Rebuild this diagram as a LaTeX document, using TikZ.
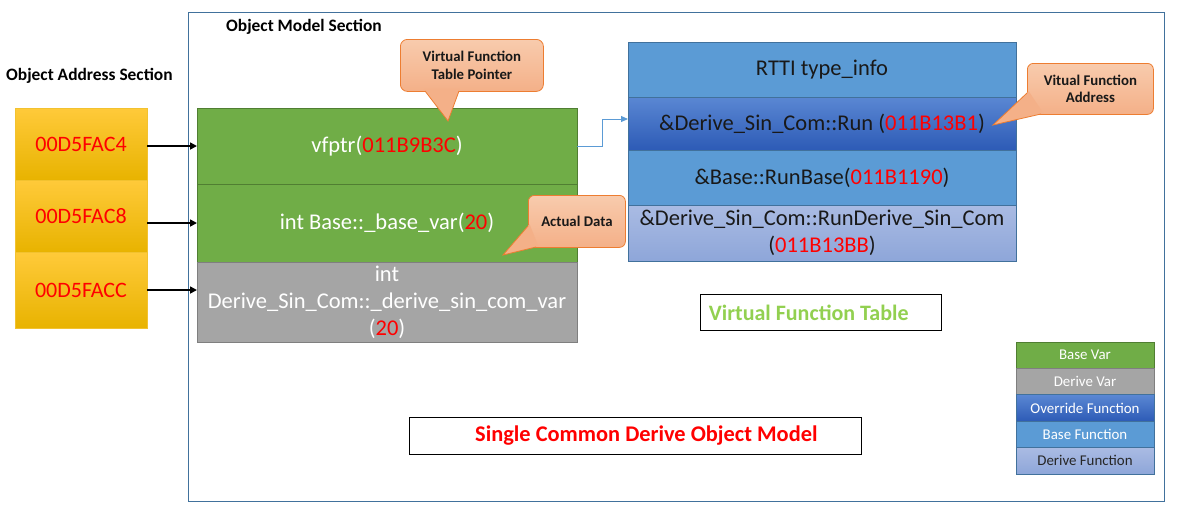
\documentclass[tikz,border=0pt]{standalone}
\usepackage{fontspec}
\setmainfont{Carlito}
\usetikzlibrary{positioning,arrows.meta}

\definecolor{goldtop}{HTML}{FFCA3A}
\definecolor{goldmid}{HTML}{FFC000}
\definecolor{goldbot}{HTML}{E8B300}
\definecolor{goldline}{HTML}{F2C230}
\definecolor{basegreen}{HTML}{70AD47}
\definecolor{greenline}{HTML}{507E32}
\definecolor{derivegray}{HTML}{A5A5A5}
\definecolor{grayline}{HTML}{7F7F7F}
\definecolor{funcblue}{HTML}{5B9BD5}
\definecolor{blueline}{HTML}{41719C}
\definecolor{overtop}{HTML}{5A87D3}
\definecolor{overbot}{HTML}{2D5BB6}
\definecolor{derivetop}{HTML}{AABBE3}
\definecolor{derivebot}{HTML}{8EA6D9}
\definecolor{notetop}{HTML}{F8CBAD}
\definecolor{notebot}{HTML}{F4B088}
\definecolor{noteline}{HTML}{ED7D31}
\definecolor{addrred}{HTML}{FF0000}
\definecolor{vftgreen}{HTML}{92D050}
\definecolor{framecol}{HTML}{41719C}

\newcommand{\addr}[1]{\textcolor{addrred}{#1}}

\tikzset{
  cell/.style={draw, line width=0.8pt, inner sep=0pt, outer sep=0pt, align=center,
    font=\fontsize{22.5}{27}\selectfont},
  addrcell/.style={cell, draw=goldline, top color=goldtop, middle color=goldmid,
    bottom color=goldbot, minimum width=132pt, text=addrred,
    font=\fontsize{22}{27}\selectfont},
  varcell/.style={cell, minimum width=380pt, text=white},
  funccell/.style={cell, draw=blueline, fill=funcblue, minimum width=388pt, text=black!90},
  legendcell/.style={cell, minimum width=138pt, minimum height=26.4pt,
    font=\fontsize{14.9}{17}\selectfont, text=white},
  note/.style={draw=noteline, line width=0.8pt, rounded corners=7pt, top color=notetop,
    bottom color=notebot, inner sep=0pt, align=center, text=black!90,
    font=\fontsize{14.8}{17.5}\selectfont\bfseries},
  wedgeline/.style={draw=noteline, line width=0.8pt, line join=miter},
  section/.style={font=\fontsize{17.4}{20}\selectfont\bfseries, inner sep=0pt},
  titlebox/.style={draw=black, line width=0.8pt, anchor=north west, inner ysep=0pt},
  addrarrow/.style={black, line width=1.6pt, -{Triangle[length=7pt,width=7pt]}},
  vflink/.style={funcblue, line width=1pt, -{Triangle[length=7pt,width=6pt]}}
}

\begin{document}
\begin{tikzpicture}[x=1pt,y=-1pt]
  \useasboundingbox (0,0) rectangle (1180,523);

  % Object model frame and section titles
  \draw[framecol, line width=0.8pt] (188,12) rectangle (1164,501);
  \node[section, anchor=west] (modeltitle) at (226,27) {Object Model Section};
  \node[section, anchor=west] (addrtitle) at (6,76) {Object Address Section};

  % Object addresses
  \node[addrcell, minimum height=72pt, anchor=north west] (adr1) at (15,108) {00D5FAC4};
  \node[addrcell, minimum height=72pt, below=0pt of adr1] (adr2) {00D5FAC8};
  \node[addrcell, minimum height=76pt, below=0pt of adr2] (adr3) {00D5FACC};

  % Object layout
  \node[varcell, fill=basegreen, draw=greenline, minimum height=76pt, anchor=north west] (vfptr) at (197,108) {vfptr(\addr{011B9B3C})};
  \node[varcell, fill=basegreen, draw=greenline, minimum height=78pt, below=0pt of vfptr] (basevar) {int Base::\_base\_var(\addr{20})};
  \node[varcell, fill=derivegray, draw=grayline, minimum height=80pt, below=0pt of basevar] (derivevar) {int\\Derive\_Sin\_Com::\_derive\_sin\_com\_var\\(\addr{20})};

  % Virtual function table
  \node[funccell, minimum height=55pt, anchor=north west] (rtti) at (628,42) {RTTI type\_info};
  \node[funccell, top color=overtop, bottom color=overbot, minimum height=53pt, below=0pt of rtti] (run) {\&Derive\_Sin\_Com::Run (\addr{011B13B1})};
  \node[funccell, minimum height=55pt, below=0pt of run] (runbase) {\&Base::RunBase(\addr{011B1190})};
  \node[funccell, top color=derivetop, bottom color=derivebot, minimum height=56pt, below=0pt of runbase] (runderive) {\&Derive\_Sin\_Com::RunDerive\_Sin\_Com\\(\addr{011B13BB})};

  % Address arrows
  \draw[addrarrow] (adr1.east |- vfptr.west) -- (vfptr.west);
  \draw[addrarrow] (adr2.east |- basevar.west) -- (basevar.west);
  \draw[addrarrow] (adr3.east) -- (adr3.east -| derivevar.west);

  % vfptr to table
  \coordinate (linkbend) at (602,119);
  \draw[vflink] (vfptr.east) -- (vfptr.east -| linkbend) -- (linkbend) -- (linkbend -| run.west);

  % Callouts
  \node[note, minimum width=143pt, minimum height=52pt, anchor=north west] (vptrnote) at (400,39) {Virtual Function\\Table Pointer};
  \coordinate (vptrtip) at (448,121);
  \fill[notebot] (423.5,89) -- (vptrtip) -- (459.9,88.65) -- cycle;
  \draw[wedgeline] (425,91) -- (vptrtip) -- (459,91);

  \node[note, minimum width=97pt, minimum height=52pt, anchor=north west, rounded corners=6pt] (datanote) at (528,195) {Actual Data};
  \coordinate (datatip) at (503,255);
  \fill[notebot] (529.6,224.1) -- (datatip) -- (538.4,246.4) -- cycle;
  \draw[wedgeline] (528,226) -- (datatip) -- (536,247);

  \node[note, minimum width=126pt, minimum height=51pt, anchor=north west, rounded corners=6pt] (funcnote) at (1027,63) {Vitual Function\\Address};
  \coordinate (functip) at (993,125);
  \fill[notebot] (1028.8,91.3) -- (functip) -- (1043.4,113.4) -- cycle;
  \draw[wedgeline] (1027,93) -- (functip) -- (1041,114);

  % Titles
  \node[titlebox, minimum height=36pt, text width=223pt, inner xsep=9pt, align=flush left, font=\fontsize{22}{24}\selectfont\bfseries, text=vftgreen] (vftlabel) at (699.5,294) {Virtual Function Table};
  \node[titlebox, minimum height=37pt, text width=452pt, inner xsep=0pt, align=flush center, font=\fontsize{22.4}{24}\selectfont\bfseries, text=addrred] (modelname) at (409,417) {\hspace*{22pt}Single Common Derive Object Model};

  % Legend
  \node[legendcell, fill=basegreen, draw=greenline, anchor=north west] (lgbase) at (1016,342) {Base Var};
  \node[legendcell, fill=derivegray, draw=grayline, below=0pt of lgbase] (lgderive) {Derive Var};
  \node[legendcell, draw=blueline, top color=overtop, bottom color=overbot, below=0pt of lgderive] (lgover) {Override Function};
  \node[legendcell, draw=blueline, fill=funcblue, below=0pt of lgover] (lgfunc) {Base Function};
  \node[legendcell, draw=blueline, top color=derivetop, bottom color=derivebot, text=black!85, below=0pt of lgfunc] (lgdfunc) {Derive Function};
\end{tikzpicture}
\end{document}
